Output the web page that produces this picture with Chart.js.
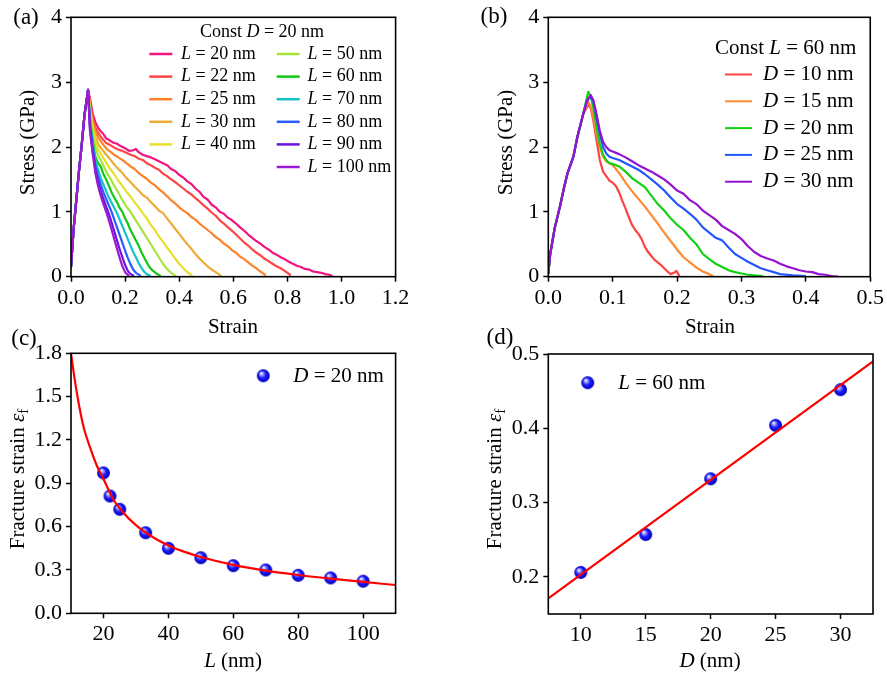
<!DOCTYPE html>
<html>
<head>
<meta charset="utf-8">
<script src="https://cdn.jsdelivr.net/npm/chart.js@4.4.1/dist/chart.umd.min.js"></script>
<style>
html, body { margin: 0; padding: 0; background: #fff; }
#wrap { position: relative; width: 887px; height: 673px; overflow: hidden; }
#wrap canvas { position: absolute; left: 0; top: 0; }
</style>
</head>
<body>
<div id="wrap">
<canvas id="plotA" width="887" height="673"></canvas>
<canvas id="plotB" width="887" height="673"></canvas>
<canvas id="plotC" width="887" height="673"></canvas>
<canvas id="plotD" width="887" height="673"></canvas>
</div>
<script>
// ---- data: panel (a), const D = 20 nm ----
const aLengths = [20, 22, 25, 30, 40, 50, 60, 70, 80, 90, 100];
const aXTicks = [0, 0.2, 0.4, 0.6, 0.8, 1.0, 1.2];
const aYTicks = [0, 1, 2, 3, 4];
const riseA = [[0,0.15],[0.005,0.45],[0.01,0.75],[0.02,1.2],[0.03,1.65],[0.04,2.05],[0.05,2.5],[0.057,2.7],[0.063,2.88]];
const curveL20 = [[0.07,2.75],[0.08,2.52],[0.09,2.38],[0.1,2.3],[0.11,2.24],[0.12,2.2],[0.13,2.13],[0.14,2.11],[0.155,2.07],[0.17,2.05],[0.185,2.01],[0.2,1.98],[0.215,1.94],[0.23,1.95],[0.24,1.97],[0.25,1.92],[0.265,1.88],[0.28,1.86],[0.295,1.84],[0.31,1.81],[0.325,1.78],[0.34,1.75],[0.355,1.72],[0.37,1.66],[0.385,1.63],[0.4,1.57],[0.415,1.53],[0.43,1.47],[0.445,1.43],[0.46,1.36],[0.475,1.31],[0.49,1.23],[0.505,1.19],[0.52,1.11],[0.535,1.07],[0.55,1.0],[0.565,0.97],[0.58,0.91],[0.595,0.87],[0.61,0.82],[0.625,0.76],[0.64,0.71],[0.655,0.65],[0.67,0.6],[0.685,0.55],[0.7,0.51],[0.715,0.46],[0.73,0.42],[0.745,0.37],[0.76,0.34],[0.775,0.3],[0.79,0.27],[0.805,0.23],[0.82,0.2],[0.835,0.17],[0.85,0.15],[0.865,0.12],[0.88,0.11],[0.895,0.08],[0.91,0.07],[0.925,0.06],[0.94,0.04],[0.955,0.03],[0.965,0.01]];
const curveL22 = [[0.07,2.7],[0.08,2.45],[0.09,2.3],[0.1,2.22],[0.115,2.13],[0.13,2.06],[0.145,2.03],[0.16,1.99],[0.175,1.96],[0.19,1.94],[0.205,1.91],[0.22,1.88],[0.235,1.86],[0.25,1.82],[0.265,1.8],[0.28,1.75],[0.295,1.72],[0.31,1.68],[0.325,1.65],[0.34,1.59],[0.355,1.55],[0.37,1.5],[0.385,1.46],[0.4,1.41],[0.415,1.36],[0.43,1.31],[0.445,1.27],[0.46,1.21],[0.475,1.16],[0.49,1.1],[0.505,1.05],[0.52,0.99],[0.535,0.94],[0.55,0.87],[0.565,0.82],[0.58,0.76],[0.595,0.71],[0.61,0.65],[0.625,0.59],[0.64,0.53],[0.655,0.48],[0.67,0.42],[0.685,0.37],[0.7,0.33],[0.715,0.28],[0.73,0.24],[0.745,0.2],[0.76,0.16],[0.775,0.13],[0.79,0.09],[0.8,0.06],[0.81,0.03]];
const curveL25 = [[0.07,2.65],[0.08,2.4],[0.09,2.25],[0.1,2.15],[0.115,2.06],[0.13,1.98],[0.145,1.93],[0.16,1.88],[0.175,1.84],[0.19,1.8],[0.205,1.75],[0.22,1.7],[0.235,1.66],[0.25,1.6],[0.265,1.55],[0.28,1.51],[0.295,1.45],[0.31,1.41],[0.325,1.35],[0.34,1.3],[0.355,1.24],[0.37,1.18],[0.385,1.13],[0.4,1.07],[0.415,1.02],[0.43,0.98],[0.445,0.92],[0.46,0.88],[0.475,0.82],[0.49,0.77],[0.505,0.72],[0.52,0.67],[0.535,0.61],[0.55,0.57],[0.565,0.51],[0.58,0.47],[0.595,0.41],[0.61,0.37],[0.625,0.31],[0.64,0.27],[0.655,0.22],[0.67,0.17],[0.685,0.13],[0.7,0.08],[0.71,0.05],[0.717,0.03]];
const curveL30 = [[0.07,2.6],[0.08,2.35],[0.09,2.15],[0.1,2.05],[0.115,1.96],[0.13,1.88],[0.145,1.81],[0.16,1.73],[0.175,1.66],[0.19,1.6],[0.205,1.52],[0.22,1.46],[0.235,1.39],[0.25,1.33],[0.265,1.26],[0.28,1.22],[0.295,1.15],[0.31,1.09],[0.325,1.02],[0.34,0.98],[0.355,0.9],[0.37,0.82],[0.385,0.74],[0.4,0.66],[0.415,0.58],[0.43,0.5],[0.445,0.43],[0.46,0.35],[0.475,0.28],[0.49,0.22],[0.505,0.16],[0.52,0.11],[0.535,0.07],[0.553,0.02]];
const curveL40 = [[0.07,2.55],[0.08,2.3],[0.09,2.1],[0.1,1.97],[0.115,1.86],[0.13,1.76],[0.145,1.66],[0.16,1.58],[0.175,1.48],[0.19,1.4],[0.205,1.31],[0.22,1.24],[0.235,1.15],[0.25,1.07],[0.265,0.98],[0.28,0.9],[0.295,0.8],[0.31,0.72],[0.325,0.62],[0.34,0.54],[0.355,0.45],[0.37,0.37],[0.385,0.28],[0.4,0.2],[0.415,0.13],[0.43,0.07],[0.446,0.02]];
const curveL50 = [[0.07,2.5],[0.08,2.2],[0.09,2.0],[0.1,1.87],[0.115,1.76],[0.13,1.62],[0.145,1.52],[0.16,1.4],[0.175,1.3],[0.19,1.18],[0.205,1.08],[0.22,1.0],[0.235,0.9],[0.25,0.8],[0.265,0.7],[0.28,0.6],[0.295,0.5],[0.31,0.4],[0.325,0.3],[0.34,0.2],[0.355,0.12],[0.37,0.06],[0.384,0.02]];
const curveL60 = [[0.07,2.45],[0.08,2.1],[0.09,1.85],[0.1,1.75],[0.11,1.7],[0.12,1.58],[0.13,1.5],[0.14,1.4],[0.15,1.3],[0.16,1.22],[0.17,1.15],[0.18,1.06],[0.19,1.0],[0.2,0.9],[0.21,0.82],[0.22,0.72],[0.23,0.64],[0.24,0.56],[0.25,0.48],[0.26,0.38],[0.27,0.3],[0.28,0.22],[0.29,0.15],[0.3,0.1],[0.315,0.05],[0.329,0.02]];
const curveL70 = [[0.07,2.4],[0.08,2.05],[0.09,1.8],[0.1,1.65],[0.11,1.52],[0.12,1.42],[0.13,1.32],[0.14,1.22],[0.15,1.14],[0.16,1.06],[0.17,0.98],[0.18,0.88],[0.19,0.78],[0.2,0.68],[0.21,0.58],[0.22,0.48],[0.23,0.38],[0.24,0.3],[0.25,0.21],[0.26,0.14],[0.27,0.08],[0.28,0.04],[0.292,0.02]];
const curveL80 = [[0.07,2.35],[0.08,2.0],[0.09,1.72],[0.1,1.55],[0.11,1.42],[0.12,1.3],[0.13,1.2],[0.14,1.1],[0.15,1.0],[0.16,0.88],[0.17,0.76],[0.18,0.64],[0.19,0.52],[0.2,0.4],[0.21,0.29],[0.22,0.19],[0.23,0.11],[0.24,0.06],[0.255,0.02]];
const curveL90 = [[0.07,2.3],[0.08,1.95],[0.09,1.65],[0.1,1.46],[0.11,1.32],[0.12,1.2],[0.13,1.08],[0.14,0.97],[0.15,0.84],[0.16,0.7],[0.17,0.56],[0.18,0.42],[0.19,0.3],[0.2,0.18],[0.21,0.09],[0.22,0.04],[0.23,0.02]];
const curveL100 = [[0.07,2.25],[0.08,1.9],[0.09,1.6],[0.1,1.4],[0.11,1.25],[0.12,1.12],[0.13,1.0],[0.14,0.87],[0.15,0.73],[0.16,0.58],[0.17,0.43],[0.18,0.29],[0.19,0.16],[0.2,0.07],[0.212,0.02]];
const aCurves = [curveL20, curveL22, curveL25, curveL30, curveL40, curveL50, curveL60, curveL70, curveL80, curveL90, curveL100];

// ---- data: panel (b), const L = 60 nm ----
const bDiameters = [10, 15, 20, 25, 30];
const bXTicks = [0, 0.1, 0.2, 0.3, 0.4, 0.5];
const bYTicks = [0, 1, 2, 3, 4];
const riseB = [[0,0.05],[0.003,0.35],[0.01,0.75],[0.018,1.08],[0.025,1.4],[0.03,1.6],[0.039,1.85],[0.045,2.15],[0.054,2.5]];
const curveD10 = [[0.062,2.65],[0.066,2.6],[0.07,2.4],[0.075,2.1],[0.08,1.8],[0.085,1.62],[0.09,1.55],[0.095,1.48],[0.1,1.45],[0.105,1.4],[0.11,1.3],[0.115,1.17],[0.12,1.05],[0.125,0.92],[0.13,0.8],[0.135,0.72],[0.14,0.66],[0.145,0.58],[0.15,0.46],[0.155,0.38],[0.16,0.32],[0.165,0.26],[0.17,0.22],[0.175,0.18],[0.18,0.13],[0.185,0.08],[0.19,0.04],[0.195,0.06],[0.199,0.09],[0.203,0.02]];
const curveD15 = [[0.062,2.7],[0.066,2.62],[0.07,2.45],[0.075,2.2],[0.08,2.0],[0.085,1.85],[0.09,1.78],[0.095,1.75],[0.1,1.72],[0.11,1.6],[0.12,1.45],[0.13,1.32],[0.14,1.2],[0.15,1.08],[0.16,0.95],[0.17,0.82],[0.18,0.68],[0.19,0.55],[0.2,0.42],[0.21,0.3],[0.22,0.22],[0.23,0.14],[0.24,0.08],[0.25,0.04],[0.255,0.01]];
const curveD20 = [[0.062,2.85],[0.066,2.78],[0.07,2.6],[0.075,2.3],[0.08,2.05],[0.085,1.88],[0.09,1.8],[0.095,1.75],[0.1,1.74],[0.11,1.7],[0.12,1.62],[0.13,1.52],[0.14,1.45],[0.15,1.38],[0.16,1.25],[0.17,1.12],[0.18,1.02],[0.19,0.9],[0.2,0.8],[0.21,0.72],[0.22,0.6],[0.23,0.5],[0.24,0.35],[0.25,0.27],[0.26,0.2],[0.27,0.15],[0.28,0.1],[0.29,0.07],[0.3,0.05],[0.31,0.03],[0.332,0.01]];
const curveD25 = [[0.06,2.7],[0.065,2.78],[0.07,2.7],[0.075,2.45],[0.08,2.2],[0.085,2.0],[0.09,1.9],[0.095,1.85],[0.1,1.83],[0.11,1.8],[0.12,1.75],[0.13,1.7],[0.14,1.65],[0.15,1.58],[0.16,1.5],[0.17,1.42],[0.18,1.33],[0.19,1.22],[0.2,1.12],[0.21,1.05],[0.22,0.97],[0.23,0.88],[0.24,0.76],[0.25,0.68],[0.26,0.6],[0.27,0.56],[0.28,0.45],[0.29,0.35],[0.3,0.29],[0.31,0.23],[0.32,0.18],[0.33,0.13],[0.34,0.1],[0.35,0.07],[0.36,0.04],[0.38,0.02],[0.399,0.01]];
const curveD30 = [[0.06,2.72],[0.066,2.8],[0.07,2.72],[0.075,2.5],[0.08,2.25],[0.085,2.08],[0.09,2.0],[0.095,1.95],[0.1,1.93],[0.11,1.89],[0.12,1.84],[0.13,1.78],[0.14,1.72],[0.15,1.67],[0.16,1.62],[0.17,1.56],[0.18,1.5],[0.19,1.42],[0.2,1.33],[0.21,1.28],[0.22,1.18],[0.23,1.12],[0.24,1.02],[0.25,0.95],[0.26,0.88],[0.27,0.78],[0.28,0.72],[0.29,0.66],[0.3,0.58],[0.31,0.47],[0.32,0.38],[0.33,0.32],[0.34,0.28],[0.35,0.25],[0.36,0.2],[0.37,0.16],[0.38,0.13],[0.39,0.1],[0.4,0.08],[0.41,0.07],[0.42,0.04],[0.43,0.03],[0.44,0.01],[0.45,0.0]];
const bCurves = [curveD10, curveD15, curveD20, curveD25, curveD30];

// ---- data: panel (c), fracture strain vs L ----
const cLengths = [20, 22, 25, 33, 40, 50, 60, 70, 80, 90, 100];
const cStrain = [0.972, 0.812, 0.72, 0.558, 0.45, 0.385, 0.33, 0.3, 0.263, 0.245, 0.222];
const cFitL = [10, 11, 12, 13, 14, 16, 18, 20, 23, 26, 30, 35, 40, 45, 50, 60, 70, 80, 90, 100, 110];
const cFitStrain = [1.8, 1.64, 1.5, 1.38, 1.28, 1.14, 1.02, 0.93, 0.79, 0.7, 0.61, 0.53, 0.47, 0.425, 0.39, 0.335, 0.295, 0.265, 0.24, 0.217, 0.196];
const cXTicks = [20, 40, 60, 80, 100];
const cYTicks = [0, 0.3, 0.6, 0.9, 1.2, 1.5, 1.8];

// ---- data: panel (d), fracture strain vs D ----
const dDiameters = [10, 15, 20, 25, 30];
const dStrain = [0.206, 0.257, 0.332, 0.404, 0.452];
const dFitD = [7.5, 32.5];
const dFitStrain = [0.171, 0.49];
const dXTicks = [10, 15, 20, 25, 30];
const dYTicks = [0.2, 0.3, 0.4, 0.5];

// ---- styles ----
const SERIF = '"Liberation Serif", "Times New Roman", serif';
const aColors = ['#f2157f', '#ff4444', '#ff8228', '#eeab35', '#e6e02a', '#a8e43a', '#12c812', '#12c4c8', '#2a5cff', '#6e12e0', '#9c1ad2'];
const bColors = ['#ff4242', '#ff8a30', '#12d012', '#2456ff', '#9412d0'];
const W = 887, H = 673, Y_AXIS_W = 40, X_AXIS_H = 30;

Chart.defaults.font.family = SERIF;
Chart.defaults.color = '#000';

function seg(t, style) { return { t: t, style: style || 'n' }; }

function drawRich(ctx, x, y, segs, size, align) {
    const fontFor = s => (s.style === 'i' ? 'italic ' : '') + (s.style === 'sub' ? Math.round(size * 0.7) : size) + 'px ' + SERIF;
    let total = 0;
    segs.forEach(s => { ctx.font = fontFor(s); total += ctx.measureText(s.t).width; });
    let cx = align === 'center' ? x - total / 2 : (align === 'right' ? x - total : x);
    ctx.textBaseline = 'middle';
    ctx.textAlign = 'left';
    ctx.fillStyle = '#000';
    segs.forEach(s => {
        ctx.font = fontFor(s);
        ctx.fillText(s.t, cx, s.style === 'sub' ? y + size * 0.3 : y);
        cx += ctx.measureText(s.t).width;
    });
}

function drawRotated(ctx, x, y, segs, size) {
    ctx.save();
    ctx.translate(x, y);
    ctx.rotate(-Math.PI / 2);
    drawRich(ctx, 0, 0, segs, size, 'center');
    ctx.restore();
}

// blue shaded ball used as marker
function makeSphere(r) {
    const c = document.createElement('canvas');
    const d = Math.ceil(r * 2 + 2);
    c.width = d; c.height = d;
    const g = c.getContext('2d');
    const m = d / 2;
    const grad = g.createRadialGradient(m - r * 0.35, m - r * 0.4, r * 0.05, m, m, r);
    grad.addColorStop(0, '#ffffff');
    grad.addColorStop(0.22, '#9c9cff');
    grad.addColorStop(0.55, '#1a1aff');
    grad.addColorStop(1, '#0000b8');
    g.fillStyle = grad;
    g.beginPath();
    g.arc(m, m, r, 0, Math.PI * 2);
    g.fill();
    return c;
}
const sphere = makeSphere(6.5);

function axis(min, max, ticks, fmt, isX) {
    return {
        type: 'linear',
        min: min,
        max: max,
        afterBuildTicks: s => { s.ticks = ticks.map(v => ({ value: v })); },
        afterFit: s => { if (isX) s.height = X_AXIS_H; else s.width = Y_AXIS_W; },
        ticks: { font: { size: 22 }, color: '#000', padding: isX ? 3 : 4, maxRotation: 0, autoSkip: false, callback: v => fmt(v) },
        grid: { drawOnChartArea: false, drawTicks: true, tickLength: 5, tickColor: '#000', tickWidth: 1.5, color: '#000' },
        border: { display: false }
    };
}

function makePanel(id, area, xs, ys, datasets, decorate) {
    return new Chart(document.getElementById(id), {
        type: 'scatter',
        data: { datasets: datasets },
        options: {
            responsive: false,
            animation: false,
            events: [],
            layout: { padding: { left: area.left - Y_AXIS_W, top: area.top, right: W - area.right, bottom: H - area.bottom - X_AXIS_H } },
            scales: { x: xs, y: ys },
            plugins: { legend: { display: false }, tooltip: { enabled: false } }
        },
        plugins: [{
            id: 'decor_' + id,
            afterDraw: chart => {
                const ctx = chart.ctx, ca = chart.chartArea;
                ctx.save();
                ctx.strokeStyle = '#000';
                ctx.lineWidth = 1.6;
                ctx.strokeRect(ca.left, ca.top, ca.right - ca.left, ca.bottom - ca.top);
                decorate(ctx);
                ctx.restore();
            }
        }]
    });
}

function curveSet(points, color, order) {
    return { data: points, showLine: true, borderColor: color, borderWidth: 2.2, borderJoinStyle: 'round', borderCapStyle: 'round', pointRadius: 0, fill: false, order: order };
}

// ---- (a) ----
makePanel('plotA', { left: 71, top: 17.3, right: 395.6, bottom: 276.7 },
    axis(0, 1.2, aXTicks, v => v.toFixed(1), true),
    axis(0, 4, aYTicks, v => String(v), false),
    aLengths.map((L, i) => curveSet(riseA.concat(aCurves[i]), aColors[i], aLengths.length - i)),
    ctx => {
        drawRich(ctx, 26, 18, [seg('(a)')], 23, 'center');
        drawRotated(ctx, 28, 142.5, [seg('Stress (GPa)')], 21);
        drawRich(ctx, 233, 327, [seg('Strain')], 21, 'center');
        drawRich(ctx, 262, 32, [seg('Const '), seg('D', 'i'), seg(' = 20 nm')], 18, 'center');
        aLengths.forEach((L, i) => {
            const col = i < 5 ? 0 : 1;
            const row = i < 5 ? i : i - 5;
            const y = 54 + row * 22.6;
            const x0 = col === 0 ? 149.3 : 276.7;
            ctx.strokeStyle = aColors[i];
            ctx.lineWidth = 2.5;
            ctx.beginPath(); ctx.moveTo(x0, y); ctx.lineTo(x0 + 23, y); ctx.stroke();
            drawRich(ctx, col === 0 ? 181 : 307.5, y, [seg('L', 'i'), seg(' = ' + L + ' nm')], 18, 'left');
        });
    });

// ---- (b) ----
makePanel('plotB', { left: 548.3, top: 17.3, right: 872.3, bottom: 276.7 },
    axis(0, 0.5, bXTicks, v => v.toFixed(1), true),
    axis(0, 4, bYTicks, v => String(v), false),
    bDiameters.map((D, i) => curveSet(riseB.concat(bCurves[i]), bColors[i], bDiameters.length - i)),
    ctx => {
        drawRich(ctx, 494, 17, [seg('(b)')], 23, 'center');
        drawRotated(ctx, 506, 142.5, [seg('Stress (GPa)')], 21);
        drawRich(ctx, 710, 327, [seg('Strain')], 21, 'center');
        drawRich(ctx, 715, 48.5, [seg('Const '), seg('L', 'i'), seg(' = 60 nm')], 21, 'left');
        bDiameters.forEach((D, i) => {
            const y = 74.5 + i * 26.8;
            ctx.strokeStyle = bColors[i];
            ctx.lineWidth = 2;
            ctx.beginPath(); ctx.moveTo(725, y); ctx.lineTo(752, y); ctx.stroke();
            drawRich(ctx, 763, y, [seg('D', 'i'), seg(' = ' + D + ' nm')], 21, 'left');
        });
    });

// ---- (c) ----
makePanel('plotC', { left: 71, top: 353.3, right: 395.6, bottom: 613.3 },
    axis(10, 110, cXTicks, v => String(v), true),
    axis(0, 1.8, cYTicks, v => v.toFixed(1), false),
    [
        { data: cLengths.map((L, i) => ({ x: L, y: cStrain[i] })), pointStyle: sphere, pointRadius: 6.5, showLine: false, order: 2 },
        { data: cFitL.map((L, i) => ({ x: L, y: cFitStrain[i] })), showLine: true, borderColor: '#ff0000', borderWidth: 2.2, pointRadius: 0, cubicInterpolationMode: 'monotone', order: 1 }
    ],
    ctx => {
        drawRich(ctx, 24, 339, [seg('(c)')], 23, 'center');
        drawRotated(ctx, 18, 479, [seg('Fracture strain '), seg('ε', 'i'), seg('f', 'sub')], 21);
        drawRich(ctx, 233, 661, [seg('L', 'i'), seg(' (nm)')], 21, 'center');
        ctx.drawImage(sphere, 263.3 - sphere.width / 2, 375.7 - sphere.height / 2);
        drawRich(ctx, 293.3, 376, [seg('D', 'i'), seg(' = 20 nm')], 21, 'left');
    });

// ---- (d) ----
makePanel('plotD', { left: 548.3, top: 354, right: 873, bottom: 614 },
    axis(7.5, 32.5, dXTicks, v => String(v), true),
    axis(0.15, 0.5, dYTicks, v => v.toFixed(1), false),
    [
        { data: dDiameters.map((D, i) => ({ x: D, y: dStrain[i] })), pointStyle: sphere, pointRadius: 6.5, showLine: false, order: 2 },
        { data: dFitD.map((D, i) => ({ x: D, y: dFitStrain[i] })), showLine: true, borderColor: '#ff0000', borderWidth: 2.2, pointRadius: 0, order: 1 }
    ],
    ctx => {
        drawRich(ctx, 500, 338, [seg('(d)')], 23, 'center');
        drawRotated(ctx, 495, 479, [seg('Fracture strain '), seg('ε', 'i'), seg('f', 'sub')], 21);
        drawRich(ctx, 710, 661, [seg('D', 'i'), seg(' (nm)')], 21, 'center');
        ctx.drawImage(sphere, 587.7 - sphere.width / 2, 382.7 - sphere.height / 2);
        drawRich(ctx, 618.3, 383, [seg('L', 'i'), seg(' = 60 nm')], 21, 'left');
    });
</script>
</body>
</html>
